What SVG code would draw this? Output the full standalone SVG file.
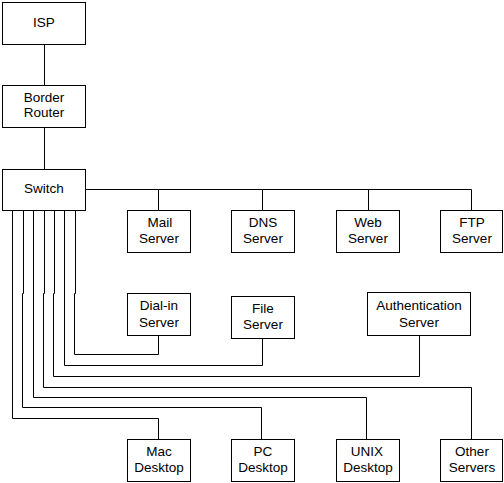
<svg xmlns="http://www.w3.org/2000/svg" width="504" height="483" viewBox="0 0 504 483">
<style>
rect{fill:#fff;stroke:#000;stroke-width:1}
text{font-family:"Liberation Sans",Arial,sans-serif;font-size:13.5px;fill:#000;text-anchor:middle}
#connectors path{fill:none;stroke:#000;stroke-width:1}
</style>
<rect x="0" y="0" width="504" height="483" style="stroke:none"/>
<g id="connectors">
<path d="M44.5 44.5V85.5"/>
<path d="M44.5 127.5V169.5"/>
<path d="M85.5 189.5H471.5V210.5"/>
<path d="M158.5 189.5V210.5"/>
<path d="M262.5 189.5V210.5"/>
<path d="M368.5 189.5V210.5"/>
<path d="M75.5 210.5V293.5H74.5V354.5H158.5V335.5"/>
<path d="M64.5 210.5V365.5H262.5V338.5"/>
<path d="M54.5 210.5V293.5H53.5V376.5H419.5V335.5"/>
<path d="M44.5 210.5V293.5H43.5V387.5H471.5V439.5"/>
<path d="M33.5 210.5V397.5H366.5V439.5"/>
<path d="M23.5 210.5V293.5H22.5V407.5H261.5V439.5"/>
<path d="M12.5 210.5V418.5H158.5V439.5"/>
</g>
<g id="isp"><rect x="2.5" y="2.5" width="83" height="42"/><text x="44" y="27">ISP</text></g>
<g id="border-router"><rect x="2.5" y="85.5" width="83" height="42"/><text x="44" y="102">Border</text><text x="44" y="117">Router</text></g>
<g id="switch"><rect x="2.5" y="169.5" width="83" height="41"/><text x="44" y="193">Switch</text></g>
<g id="mail-server"><rect x="127.5" y="210.5" width="63" height="42"/><text x="160" y="227">Mail</text><text x="159" y="243">Server</text></g>
<g id="dns-server"><rect x="231.5" y="210.5" width="63" height="42"/><text x="263" y="227">DNS</text><text x="263" y="243">Server</text></g>
<g id="web-server"><rect x="336.5" y="210.5" width="63" height="42"/><text x="368" y="227">Web</text><text x="368" y="243">Server</text></g>
<g id="ftp-server"><rect x="440.5" y="210.5" width="62" height="42"/><text x="472" y="227">FTP</text><text x="472" y="243">Server</text></g>
<g id="dial-in-server"><rect x="127.5" y="293.5" width="63" height="42"/><text x="159" y="310">Dial-in</text><text x="159" y="327">Server</text></g>
<g id="file-server"><rect x="231.5" y="296.5" width="63" height="42"/><text x="263" y="313">File</text><text x="263" y="329">Server</text></g>
<g id="authentication-server"><rect x="367.5" y="292.5" width="103" height="43"/><text x="419" y="310">Authentication</text><text x="419" y="327">Server</text></g>
<g id="mac-desktop"><rect x="127.5" y="439.5" width="63" height="42"/><text x="159" y="456">Mac</text><text x="159" y="472">Desktop</text></g>
<g id="pc-desktop"><rect x="231.5" y="439.5" width="63" height="42"/><text x="263" y="456">PC</text><text x="263" y="472">Desktop</text></g>
<g id="unix-desktop"><rect x="336.5" y="439.5" width="63" height="42"/><text x="367" y="456">UNIX</text><text x="368" y="472">Desktop</text></g>
<g id="other-servers"><rect x="440.5" y="439.5" width="62" height="42"/><text x="472" y="456">Other</text><text x="472" y="472">Servers</text></g>
</svg>
